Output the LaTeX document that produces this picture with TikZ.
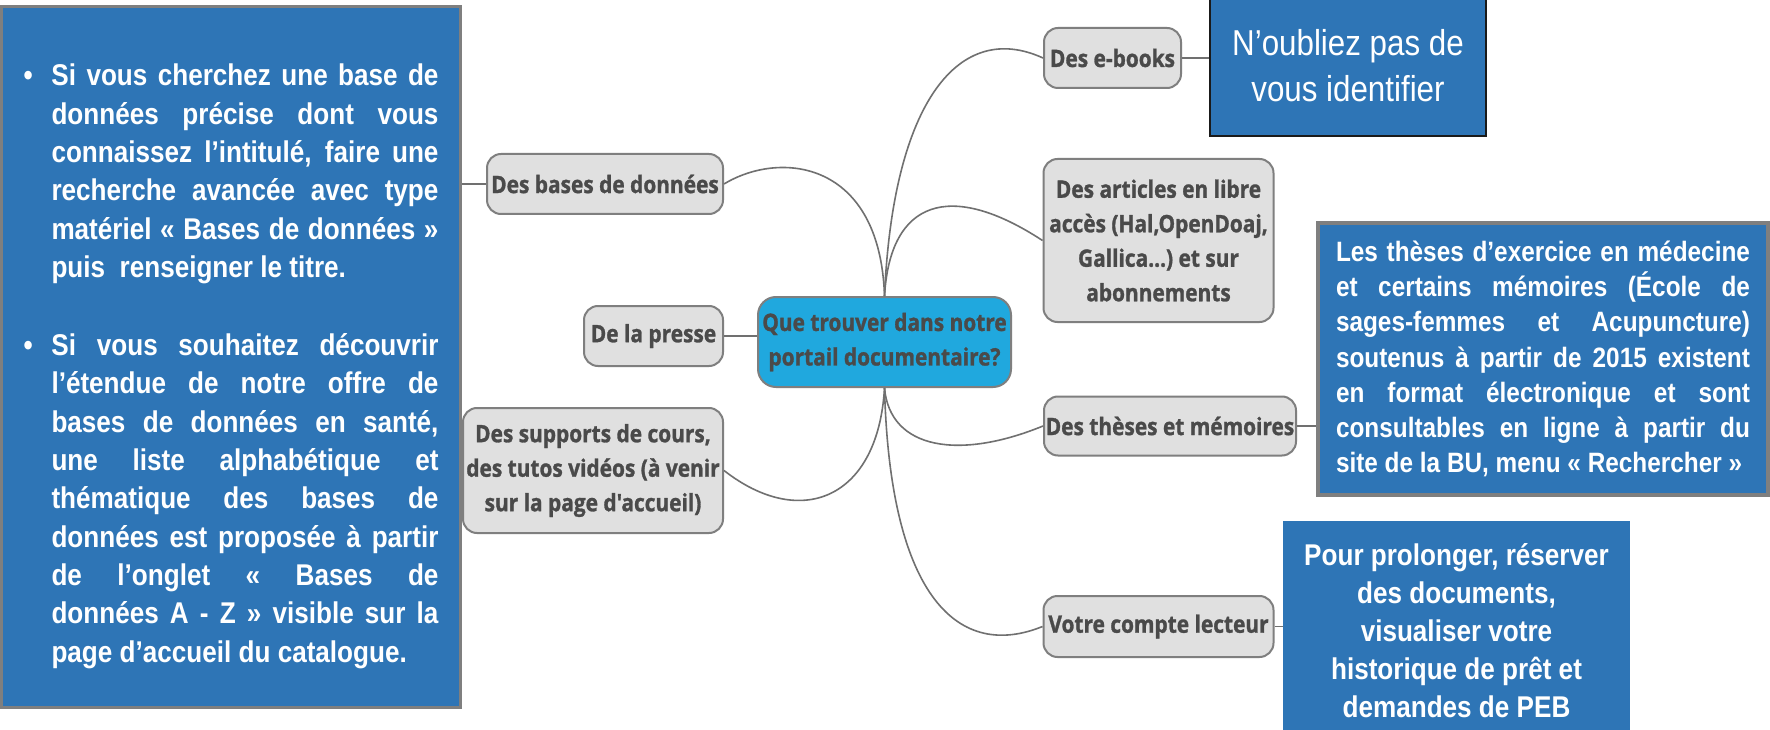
\documentclass[tikz,border=0pt]{standalone}
\usepackage{fontspec}
\newfontfamily\arialn{Liberation Sans}[FakeStretch=0.87]
\newfontfamily\osans{Open Sans}[FakeStretch=0.87,FakeBold=1.2]
\definecolor{boxblue}{HTML}{2E75B6}
\definecolor{boxgrey}{HTML}{7F7F7F}
\definecolor{nodefill}{HTML}{E0E0E0}
\definecolor{nodeborder}{HTML}{7F7F7F}
\definecolor{nodetext}{HTML}{4A4A4A}
\definecolor{centralblue}{HTML}{20A8DE}
\definecolor{linkgrey}{HTML}{707070}
\definecolor{darkborder}{HTML}{1A1A1A}
\begin{document}
\begin{tikzpicture}[x=1pt,y=-1pt,
  mm/.style={draw=nodeborder, line width=2pt, fill=nodefill, rounded corners=14pt,
    text=nodetext, font=\osans\bfseries\fontsize{24}{34.5}\selectfont, align=center, inner sep=0pt},
  link/.style={draw=linkgrey, line width=1.6pt},
  bluebox/.style={fill=boxblue, text=white, inner sep=0pt}]
\useasboundingbox (0,0) rectangle (1770,730);
\fill[white] (0,0) rectangle (1770,730);
\begin{scope}
\clip (0,0) rectangle (1770,730);
% left info box
\node[bluebox, draw=boxgrey, line width=3pt, minimum width=459, minimum height=701,
  text width=415, align=justify,
  font=\arialn\bfseries\fontsize{30}{38.3}\selectfont] (left) at (231,357) {%
  \tolerance=10000\hyphenpenalty=10000\exhyphenpenalty=10000
  \vspace*{2pt}\par
  \noindent\hangindent=28pt\hangafter=1\makebox[28pt][l]{•}Si vous cherchez une base de\linebreak
  données précise dont vous\linebreak
  connaissez l’intitulé, faire une\linebreak
  recherche avancée avec type\linebreak
  matériel « Bases de données »\linebreak
  puis~ renseigner le titre.\par
  \vskip40pt
  \noindent\hangindent=28pt\hangafter=1\makebox[28pt][l]{•}Si vous souhaitez découvrir\linebreak
  l’étendue de notre offre de\linebreak
  bases de données en santé,\linebreak
  une liste alphabétique et\linebreak
  thématique des bases de\linebreak
  données est proposée à partir\linebreak
  de l’onglet « Bases de\linebreak
  données A - Z » visible sur la\linebreak
  page d’accueil du catalogue.\par};
% mind map nodes
\node[mm, minimum width=236, minimum height=60] (bases) at (605,184) {Des bases de données};
\node[mm, minimum width=139, minimum height=60] (presse) at (653.5,336) {De la presse};
\node[mm, minimum width=260, minimum height=125] (supports) at (593,470.5) {Des supports de cours,\\des tutos vidéos (à venir\\sur la page d'accueil)};
\node[mm, fill=centralblue, minimum width=253, minimum height=90, rounded corners=18pt] (c) at (884.5,342) {Que trouver dans notre\\portail documentaire?};
\node[mm, minimum width=137, minimum height=60] (ebooks) at (1112.5,58) {Des e-books};
\node[mm, minimum width=230, minimum height=163] (articles) at (1158.5,240.5) {Des articles en libre\\accès (Hal,OpenDoaj,\\Gallica…) et sur\\abonnements};
\node[mm, minimum width=252, minimum height=59] (theses) at (1170,426) {Des thèses et mémoires};
\node[mm, minimum width=230, minimum height=61] (compte) at (1158.5,626.5) {Votre compte lecteur};
% right boxes
\node[bluebox, draw=darkborder, line width=2.5pt, minimum width=276, minimum height=140,
  align=center, font=\arialn\fontsize{36}{46}\selectfont] (nb) at (1348,66) {N’oubliez pas de\\vous identifier};
\node[bluebox, draw=boxgrey, line width=4pt, minimum width=450, minimum height=272,
  text width=414, align=justify,
  font=\arialn\bfseries\fontsize{28}{35.2}\selectfont] (thb) at (1543,359) {%
  \tolerance=10000\hyphenpenalty=10000\exhyphenpenalty=10000
  Les thèses d’exercice en médecine\linebreak
  et certains mémoires (École de\linebreak
  sages-femmes et Acupuncture)\linebreak
  soutenus à partir de 2015 existent\linebreak
  en format électronique et sont\linebreak
  consultables en ligne à partir du\linebreak
  site de la BU, menu « Rechercher »};
\node[bluebox, minimum width=347, minimum height=219, align=center,
  font=\arialn\bfseries\fontsize{30}{38}\selectfont] (pp) at (1456.5,630.5) {Pour prolonger, réserver\\des documents,\\visualiser votre\\historique de prêt et\\demandes de PEB};
% connectors
\draw[link] (bases.west -| left.east) -- (bases.west);
\draw[link] (presse.east) -- (presse.east -| c.west);
\draw[link] (c.north) .. controls (880,160) and (780,150) .. (bases.east);
\draw[link] (c.north) .. controls (893,100) and (960,20) .. (ebooks.west);
\draw[link] (c.north) .. controls (890,200) and (950,180) .. (articles.west);
\draw[link] (c.south) .. controls (890,450) and (960,460) .. (theses.west);
\draw[link] (c.south) .. controls (890,600) and (960,660) .. (compte.west);
\draw[link] (c.south) .. controls (878,500) and (800,530) .. (supports.east);
\draw[link] (ebooks.east) -- (ebooks.east -| nb.west);
\draw[link] (theses.east) -- (theses.east -| thb.west);
\draw[link] (compte.east) -- (compte.east -| pp.west);
\end{scope}
\end{tikzpicture}
\end{document}
